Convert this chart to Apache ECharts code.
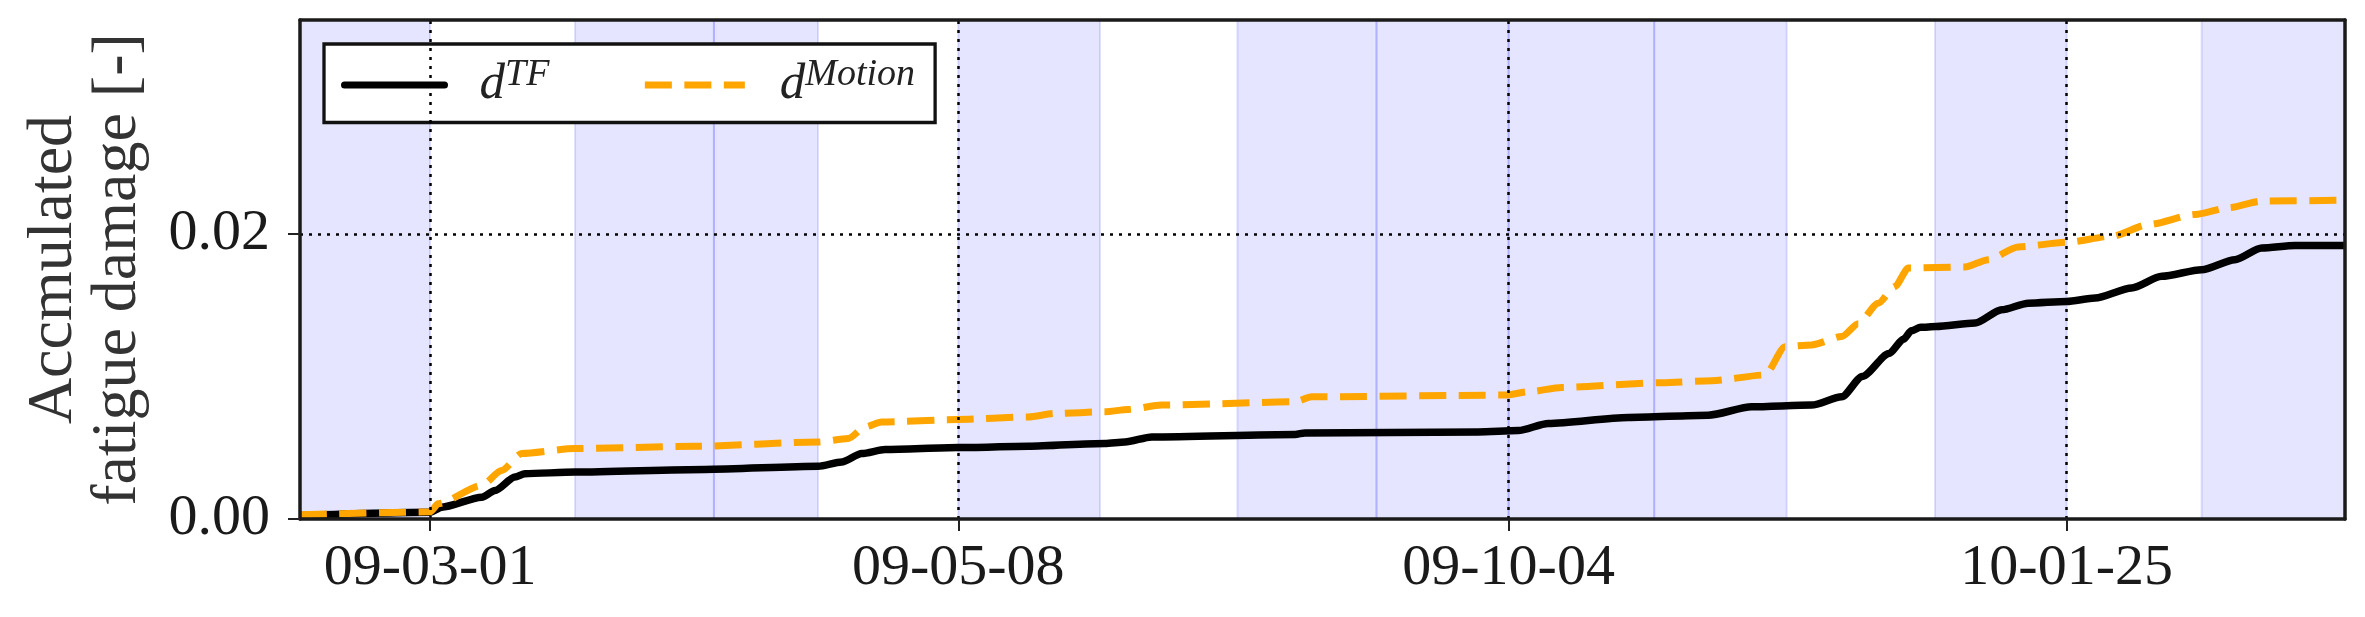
<!DOCTYPE html>
<html>
<head>
<meta charset="utf-8">
<title>Accumulated fatigue damage</title>
<script src="https://cdn.jsdelivr.net/npm/echarts@6/dist/echarts.min.js"></script>
<style>
  html, body { margin: 0; padding: 0; background: #fff; }
  #chart { width: 2365px; height: 617px; }
</style>
</head>
<body>
<div id="chart"></div>
<script>
// x is a running sample index over the whole record (0..1000)
const X_MAX = 1000;
const Y_MAX = 0.035;

// date ticks (YY-MM-DD)
const TICK_VALUES = [63.6, 321.9, 591.0, 863.9];
const TICK_LABELS = ["09-03-01", "09-05-08", "09-10-04", "10-01-25"];
const Y_TICKS = [0, 0.02];

// shaded periods [start, end]
const SHADED_SPANS = [
  [0, 63.6], [134.5, 202.4], [202.4, 253.3], [321.9, 391.2],
  [458.4, 526.4], [526.4, 591.0], [591.0, 662.2], [662.2, 727.0],
  [799.5, 863.9], [929.9, 1000]
];

// accumulated damage, transfer function approach
const damageTF = [
  [0, 0.00025], [63.6, 0.00048], [69.3, 0.00083], [88.9, 0.00153], [95.4, 0.0020],
  [105.1, 0.00294], [110.0, 0.00318], [134.5, 0.00329], [198.0, 0.00348], [253.4, 0.0037],
  [264.9, 0.0040], [274.7, 0.00459], [286.1, 0.00487], [321.9, 0.00501], [356.1, 0.0051],
  [393.6, 0.0053], [403.4, 0.0054], [416.5, 0.00576], [486.6, 0.00593], [491.4, 0.00604],
  [576.2, 0.00611], [595.7, 0.0062], [610.4, 0.0067], [649.5, 0.00712], [688.6, 0.00728],
  [709.9, 0.00787], [739.2, 0.00799], [753.9, 0.00857], [764.0, 0.0100], [777.0, 0.0116],
  [784.0, 0.0126], [788.0, 0.0132], [792.5, 0.01345], [800.0, 0.0135], [819.1, 0.01374],
  [832.1, 0.01467], [845.1, 0.01514], [863.9, 0.01526], [877.8, 0.0155], [895.7, 0.0162],
  [910.4, 0.01702], [929.9, 0.01749], [946.2, 0.01819], [959.3, 0.01901], [975.6, 0.01918],
  [1000, 0.01918]
];

// accumulated damage, motion based approach
const damageMotion = [
  [0, 0.0003], [63.6, 0.0005], [67.6, 0.00107], [88.9, 0.00236], [98.6, 0.0034],
  [108.4, 0.00459], [134.5, 0.00494], [193.2, 0.0051], [253.4, 0.0054], [268.1, 0.00564],
  [276.3, 0.00646], [284.4, 0.0068], [321.9, 0.00698], [356.1, 0.00716], [369.2, 0.0074],
  [393.6, 0.00752], [405.0, 0.00768], [421.4, 0.00799], [486.6, 0.00822], [494.7, 0.00857],
  [589.2, 0.00869], [600.6, 0.00892], [617.0, 0.00923], [665.9, 0.00956], [690.3, 0.0097],
  [716.4, 0.0101], [726.2, 0.01209], [739.2, 0.01221], [753.9, 0.0128], [762.0, 0.0137],
  [771.8, 0.01514], [779.9, 0.01631], [786.5, 0.0176], [814.2, 0.01768], [825.6, 0.01819],
  [840.2, 0.01908], [863.9, 0.01941], [885.9, 0.01983], [903.8, 0.02065], [926.7, 0.02136],
  [943.0, 0.02183], [959.3, 0.0223], [1000, 0.02236]
];

const serif = "'Liberation Serif', 'DejaVu Serif', serif";
const frameLine = { color: "#1a1a1a", width: 3.5 };

const tickLabel = (v) => {
  const i = TICK_VALUES.findIndex((t) => Math.abs(t - v) < 1e-6);
  return i >= 0 ? TICK_LABELS[i] : "";
};

const chart = echarts.init(document.getElementById("chart"));

const option = {
  animation: false,
  backgroundColor: "#fff",
  grid: { left: 300, right: 20, top: 20, bottom: 98 },
  legend: {
    data: [
      { name: "d^TF", lineStyle: { cap: "round" } },
      { name: "d^Motion" }
    ],
    left: 324,
    top: 44,
    backgroundColor: "#fff",
    borderColor: "#111",
    borderWidth: 3.3,
    borderRadius: 0,
    padding: [12, 20, 12, 17],
    itemWidth: 100,
    itemHeight: 20,
    itemGap: 92,
    itemStyle: { opacity: 0 },
    lineStyle: { width: 7 },
    formatter: (name) => {
      const parts = name.split("^");
      return `{d|${parts[0]}}{s|${parts[1]}}`;
    },
    textStyle: {
      rich: {
        d: { fontFamily: serif, fontStyle: "italic", fontSize: 51, color: "#222", lineHeight: 58, padding: [0, 0, 0, 30] },
        s: { fontFamily: serif, fontStyle: "italic", fontSize: 38, color: "#222", verticalAlign: "top", lineHeight: 40 }
      }
    }
  },
  xAxis: [
    {
      type: "value",
      min: 0,
      max: X_MAX,
      z: 10,
      axisLine: { show: true, onZero: false, lineStyle: frameLine },
      axisTick: { show: true, customValues: TICK_VALUES, length: 12, lineStyle: { color: "#222", width: 2 } },
      axisLabel: {
        customValues: TICK_VALUES,
        formatter: tickLabel,
        fontFamily: serif,
        fontSize: 58,
        color: "#1a1a1a",
        margin: 21
      },
      splitLine: { show: false }
    },
    {
      type: "value",
      position: "top",
      min: 0,
      max: X_MAX,
      z: 10,
      axisLine: { show: true, onZero: false, lineStyle: frameLine },
      axisTick: { show: false },
      axisLabel: { show: false },
      splitLine: { show: false }
    }
  ],
  yAxis: [
    {
      type: "value",
      min: 0,
      max: Y_MAX,
      z: 10,
      name: "Accmulated\nfatigue damage [-]",
      nameLocation: "middle",
      nameRotate: 90,
      nameGap: 150,
      nameTextStyle: { fontFamily: serif, fontSize: 64, lineHeight: 64, color: "#333" },
      axisLine: { show: true, onZero: false, lineStyle: frameLine },
      axisTick: { show: true, customValues: Y_TICKS, length: 12, lineStyle: { color: "#222", width: 2 } },
      axisLabel: {
        customValues: Y_TICKS,
        formatter: (v) => v.toFixed(2),
        fontFamily: serif,
        fontSize: 58,
        color: "#1a1a1a",
        margin: 30
      },
      splitLine: { show: false }
    },
    {
      type: "value",
      position: "right",
      min: 0,
      max: Y_MAX,
      z: 10,
      axisLine: { show: true, onZero: false, lineStyle: frameLine },
      axisTick: { show: false },
      axisLabel: { show: false },
      splitLine: { show: false }
    }
  ],
  series: [
    {
      // background periods and dotted grid lines
      name: "bands",
      type: "line",
      data: [],
      z: 1,
      silent: true,
      markArea: {
        silent: true,
        itemStyle: { color: "rgba(0, 0, 255, 0.1)", borderColor: "rgba(0, 0, 255, 0.12)", borderWidth: 2 },
        data: SHADED_SPANS.map(([a, b]) => [{ xAxis: a }, { xAxis: b }])
      },
      markLine: {
        silent: true,
        symbol: "none",
        label: { show: false },
        lineStyle: { color: "#000", type: [3, 6], width: 2.5 },
        data: [...TICK_VALUES.map((v) => ({ xAxis: v })), ...Y_TICKS.filter((v) => v > 0).map((v) => ({ yAxis: v }))]
      }
    },
    {
      name: "d^TF",
      type: "line",
      data: damageTF,
      symbol: "none",
      smooth: 0.25,
      smoothMonotone: "x",
      z: 3,
      itemStyle: { color: "#000" },
      lineStyle: { color: "#000", width: 7.5, join: "round" }
    },
    {
      name: "d^Motion",
      type: "line",
      data: damageMotion,
      symbol: "none",
      smooth: 0.25,
      smoothMonotone: "x",
      z: 4,
      itemStyle: { color: "#FFA500" },
      lineStyle: { color: "#FFA500", width: 7, type: [27, 12.5], cap: "butt", join: "round" }
    }
  ]
};

chart.setOption(option);
</script>
</body>
</html>
